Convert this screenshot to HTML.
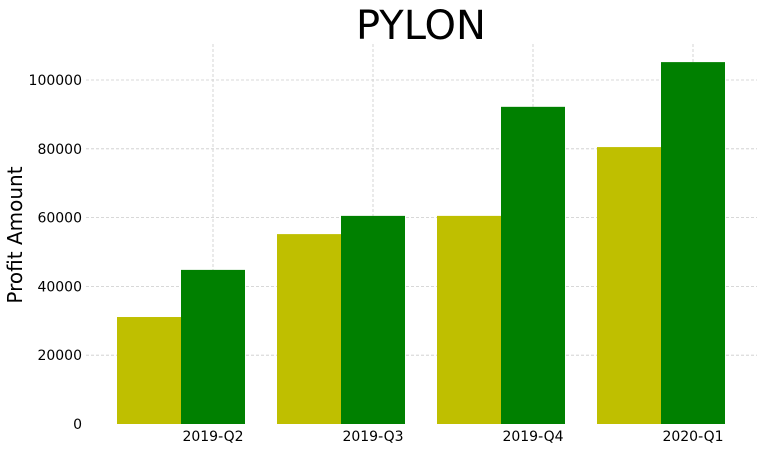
<!DOCTYPE html>
<html><head><meta charset="utf-8"><style>
body{margin:0;background:#fff;}
svg{display:block;font-family:"DejaVu Sans","Liberation Sans",sans-serif;}
</style></head><body>
<svg id="chart" width="763" height="449" viewBox="0 0 763 449"></svg>
<script>
const categories = ["2019-Q2","2019-Q3","2019-Q4","2020-Q1"];
const seriesA = [31100, 55200, 60500, 80500];
const seriesB = [44800, 60500, 92200, 105200];
const yTicks = [0,20000,40000,60000,80000,100000];

const svgEl = document.getElementById('chart');
const NS = 'http://www.w3.org/2000/svg';
const plotLeft = 86, plotRight = 757, plotTop = 44, plotBottom = 424;
const yScale = v => plotBottom - v * (344 / 100000);
const xc = i => 213 + i * 160;
const bw = 64;
function mk(tag, attrs){const e=document.createElementNS(NS,tag);for(const k in attrs)e.setAttribute(k,attrs[k]);svgEl.appendChild(e);return e;}

yTicks.forEach(t=>{
  if(t>0){
    const g=mk('line',{x1:plotLeft,x2:plotRight,y1:yScale(t),y2:yScale(t),stroke:'#ccc','stroke-width':0.8,'stroke-dasharray':'3,2'});
    
    
  }
  const l=mk('text',{x:82,y:yScale(t)+5,'text-anchor':'end','font-size':14,fill:'#000'});
  l.textContent=t;
  
  
});
categories.forEach((c,i)=>{
  const g=mk('line',{x1:xc(i),x2:xc(i),y1:plotTop,y2:plotBottom,stroke:'#ccc','stroke-width':0.8,'stroke-dasharray':'3,2'});
  
  
});
categories.forEach((c,i)=>{
  const a=mk('rect',{x:xc(i)-96,y:yScale(seriesA[i]),width:bw,height:plotBottom-yScale(seriesA[i]),fill:'#bfbf00'});
  
  
  const b=mk('rect',{x:xc(i)-32,y:yScale(seriesB[i]),width:bw,height:plotBottom-yScale(seriesB[i]),fill:'#008000'});
  
  
  const l=mk('text',{x:xc(i),y:441,'text-anchor':'middle','font-size':14,fill:'#000'});
  l.textContent=c;
  
  
});
const title=mk('text',{x:421,y:39,'text-anchor':'middle','font-size':40,fill:'#000'});
title.textContent='PYLON';


const yl=mk('text',{x:22,y:235,'text-anchor':'middle','font-size':20,fill:'#000',transform:'rotate(-90 22 235)'});
yl.textContent='Profit Amount';


</script>
</body></html>
